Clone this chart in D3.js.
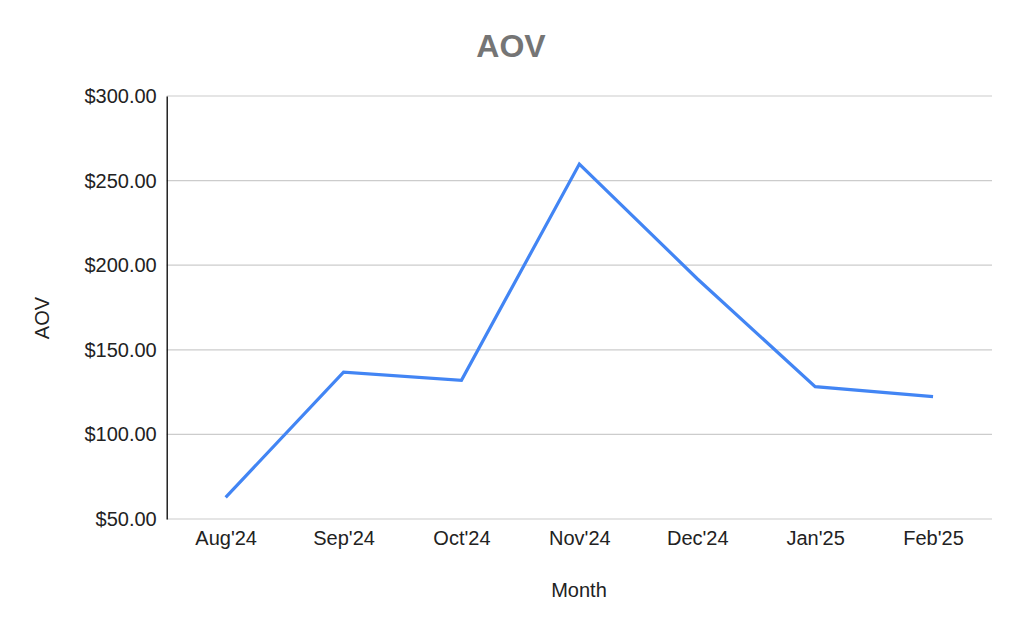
<!DOCTYPE html>
<html><head><meta charset="utf-8">
<script src="https://cdn.jsdelivr.net/npm/d3@7"></script>
<style>body{margin:0;background:#fff;} text{font-family:"Liberation Sans",Arial,sans-serif;}</style>
</head><body>
<svg id="c" width="1024" height="633"></svg>
<script>
const months = ["Aug'24","Sep'24","Oct'24","Nov'24","Dec'24","Jan'25","Feb'25"];
const aov = [62.8, 136.8, 132.0, 259.8, 192.0, 128.2, 122.3];
const yTicks = [50, 100, 150, 200, 250, 300];

const svg = d3.select("#c");
const m = {l:166.7, r:992, t:96, b:519};
const x = d3.scalePoint().domain(months).range([m.l, m.r]).padding(0.5);
const y = d3.scaleLinear().domain([50, 300]).range([m.b, m.t]);

svg.append("rect").attr("width",1024).attr("height",633).attr("fill","#fff");

// gridlines
svg.append("g").selectAll("line").data(yTicks).join("line")
  .attr("x1", m.l).attr("x2", m.r)
  .attr("y1", d=>y(d)).attr("y2", d=>y(d))
  .attr("stroke", "#cccccc").attr("stroke-width", 1.2);

// y axis
const ya = svg.append("g").attr("transform", `translate(${m.l},0)`)
  .call(d3.axisLeft(y).tickValues(yTicks).tickSize(0).tickPadding(10).tickFormat(d=>"$"+d3.format(",.2f")(d)));
ya.select(".domain").attr("stroke","#000").attr("stroke-width",1.3);
ya.selectAll("text").attr("font-size",20).attr("fill","#222").style("font-family","'Liberation Sans',Arial,sans-serif");

// x axis
const xa = svg.append("g").attr("transform", `translate(0,${m.b})`)
  .call(d3.axisBottom(x).tickSize(0).tickPadding(12));
xa.select(".domain").remove();
xa.selectAll("text").attr("font-size",20).attr("fill","#222").style("font-family","'Liberation Sans',Arial,sans-serif");

// line
svg.append("path").datum(aov)
  .attr("fill","none").attr("stroke","#4285f4").attr("stroke-width",3.2)
  .attr("stroke-linejoin","miter")
  .attr("d", d3.line().x((d,i)=>x(months[i])).y(d=>y(d)));

// title
svg.append("text").attr("x",511).attr("y",57).attr("text-anchor","middle")
  .attr("font-size",32).attr("font-weight","bold").attr("fill","#757575").text("AOV");
svg.append("text").attr("x",579).attr("y",597).attr("text-anchor","middle")
  .attr("font-size",20).attr("fill","#222").text("Month");
svg.append("text").attr("transform","translate(49,318) rotate(-90)").attr("text-anchor","middle")
  .attr("font-size",20).attr("fill","#222").text("AOV");
</script>
</body></html>
